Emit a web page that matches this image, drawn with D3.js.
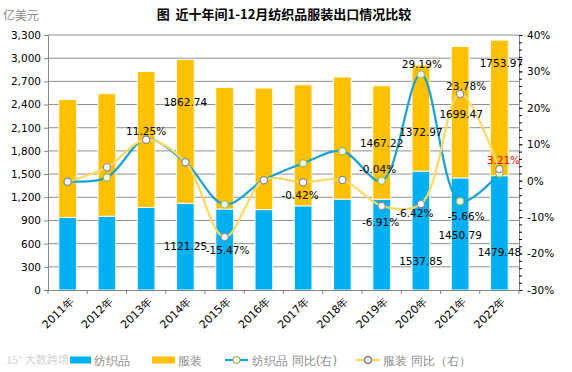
<!DOCTYPE html>
<html>
<head>
<meta charset="utf-8">
<script src="https://cdn.jsdelivr.net/npm/d3@7"></script>
<style>
  body { margin: 0; background: #fff; }
  text { font-family: "DejaVu Sans", sans-serif; }
  .cjk { font-family: "Noto Sans CJK SC", sans-serif; }
</style>
</head>
<body>
<div class="vis-combo"></div>
<script>
const years = ['2011年', '2012年', '2013年', '2014年', '2015年', '2016年',
  '2017年', '2018年', '2019年', '2020年', '2021年', '2022年'];
const textile = [940, 955, 1068, 1121.25, 1048, 1040, 1089, 1176, 1175, 1537.85, 1450.79, 1479.48];
const apparel = [1525, 1585, 1760, 1862.74, 1574, 1574, 1566, 1580, 1467.22, 1372.97, 1699.47, 1753.97];
const textileYoy = [-0.2, 0.9, 11.4, 5.0, -6.5, 0.2, 4.8, 8.1, -0.04, 29.19, -5.66, 1.98];
const apparelYoy = [-0.3, 3.67, 11.25, 5.05, -15.47, 0.1, -0.42, 0.2, -6.91, -6.42, 23.78, 3.21];
const leftTicks = d3.range(0, 3301, 300);
const rightTicks = d3.range(-30, 41, 10);

// which values carry a label, and where the label sits (dx, dy from the mark centre)
const barLabels = [
  { s: 'textile', i: 3, dx: 0, dy: 0 },
  { s: 'apparel', i: 3, dx: 0, dy: -29 },
  { s: 'apparel', i: 8, dx: 0, dy: 1 },
  { s: 'textile', i: 9, dx: 0, dy: 31 },
  { s: 'apparel', i: 9, dx: 0, dy: 14 },
  { s: 'textile', i: 10, dx: 0, dy: 1 },
  { s: 'apparel', i: 10, dx: 1, dy: 2 },
  { s: 'textile', i: 11, dx: 0, dy: 19 },
  { s: 'apparel', i: 11, dx: 2, dy: -45 }
];
const yoyLabels = [
  { s: 'apparel', i: 2, dx: 0, dy: -9 },
  { s: 'apparel', i: 4, dx: 3, dy: 13 },
  { s: 'apparel', i: 6, dx: -3, dy: 13 },
  { s: 'textile', i: 8, dx: -4, dy: -12 },
  { s: 'apparel', i: 8, dx: -1, dy: 16 },
  { s: 'textile', i: 9, dx: 1, dy: -10 },
  { s: 'apparel', i: 9, dx: -6, dy: 9 },
  { s: 'apparel', i: 10, dx: 6, dy: -8 },
  { s: 'textile', i: 10, dx: 6, dy: 15 },
  { s: 'apparel', i: 11, dx: 4, dy: -9, red: true }
];

const W = 572;
const H = 372;
const margin = { top: 35, right: 53, bottom: 82, left: 48 };
const width = W - margin.left - margin.right;
const height = H - margin.top - margin.bottom;

const root = d3.select('.vis-combo').append('svg')
  .attr('width', W)
  .attr('height', H);
const svg = root.append('g')
  .attr('transform', `translate(${margin.left},${margin.top})`);

const x = d3.scaleBand().domain(years).range([0, width]).paddingInner(0.55).paddingOuter(0.275);
const y = d3.scaleLinear().domain([0, 3300]).range([height, 0]);
const y2 = d3.scaleLinear().domain([-30, 40]).range([height, 0]);
const cx = (i) => x(years[i]) + x.bandwidth() / 2;

// title and unit
root.append('text').attr('class', 'cjk')
  .attr('x', 284).attr('y', 19)
  .attr('text-anchor', 'middle')
  .attr('font-size', 13).attr('font-weight', 'bold').attr('fill', '#000')
  .text('图\u00a0\u00a0近十年间1-12月纺织品服装出口情况比较');
root.append('text').attr('class', 'cjk')
  .attr('x', 3).attr('y', 20)
  .attr('font-size', 12).attr('fill', '#8c8c8c')
  .text('亿美元');

// gridlines
svg.append('g').selectAll('line').data(leftTicks.slice(1)).join('line')
  .attr('x1', 0).attr('x2', width)
  .attr('y1', (d) => y(d)).attr('y2', (d) => y(d))
  .attr('stroke', '#8f8f8f').attr('stroke-width', 1);

// stacked bars
const bars = svg.append('g');
bars.selectAll('.t').data(textile).join('rect')
  .attr('x', (d, i) => x(years[i]))
  .attr('width', x.bandwidth())
  .attr('y', (d) => y(d))
  .attr('height', (d) => y(0) - y(d))
  .attr('fill', '#00B0F0')
  .attr('stroke', '#f4fbff').attr('stroke-width', 1);
bars.selectAll('.a').data(apparel).join('rect')
  .attr('x', (d, i) => x(years[i]))
  .attr('width', x.bandwidth())
  .attr('y', (d, i) => y(d + textile[i]))
  .attr('height', (d) => y(0) - y(d))
  .attr('fill', '#FFC000')
  .attr('stroke', '#fffbef').attr('stroke-width', 1);

// axes
const axisColor = '#868686';
const gl = svg.append('g').call(d3.axisLeft(y).tickValues(leftTicks).tickSize(4).tickFormat(d3.format(',')));
const gr = svg.append('g').attr('transform', `translate(${width},0)`)
  .call(d3.axisRight(y2).tickValues(rightTicks).tickSize(4).tickFormat((d) => d + '%'));
svg.append('g').attr('transform', `translate(${width},0)`)
  .call(d3.axisRight(y2).tickValues(d3.range(-30, 41, 2)).tickSize(3).tickFormat(''))
  .call((g) => g.select('.domain').remove());
const gb = svg.append('g').attr('transform', `translate(0,${height})`)
  .call(d3.axisBottom(x).tickSize(0).tickFormat((d) => d));
// category boundary ticks
svg.append('g').selectAll('line').data(d3.range(0, years.length + 1)).join('line')
  .attr('x1', (d) => d * x.step()).attr('x2', (d) => d * x.step())
  .attr('y1', height).attr('y2', height + 4)
  .attr('stroke', axisColor);

[gl, gr, gb].forEach((g) => {
  g.selectAll('.domain').attr('stroke', axisColor);
  g.selectAll('.tick line').attr('stroke', axisColor);
  g.selectAll('text').attr('font-size', 10.5).attr('fill', '#000');
});
gl.selectAll('text').attr('x', -7);
gr.selectAll('text').attr('x', 8);
gb.selectAll('text')
  .attr('transform', 'translate(4,9) rotate(-45)')
  .attr('text-anchor', 'end')
  .attr('dy', '0.35em')
  .attr('x', 0).attr('y', 0)
  .attr('font-size', 11);

// yoy lines
const line = d3.line()
  .x((d, i) => cx(i))
  .y((d) => y2(d))
  .curve(d3.curveCatmullRom.alpha(0.5));
svg.append('path').datum(textileYoy)
  .attr('fill', 'none').attr('stroke', '#1BA3D3').attr('stroke-width', 2.25)
  .attr('d', line);
svg.append('path').datum(apparelYoy)
  .attr('fill', 'none').attr('stroke', '#FFD966').attr('stroke-width', 2.25)
  .attr('d', line);
svg.append('g').selectAll('circle').data(textileYoy).join('circle')
  .attr('cx', (d, i) => cx(i)).attr('cy', (d) => y2(d)).attr('r', 3.6)
  .attr('fill', '#f3f8e8').attr('stroke', '#9BBB59').attr('stroke-width', 1.2);
svg.append('g').selectAll('circle').data(apparelYoy).join('circle')
  .attr('cx', (d, i) => cx(i)).attr('cy', (d) => y2(d)).attr('r', 3.6)
  .attr('fill', '#ffffff').attr('stroke', '#8a8a9a').attr('stroke-width', 1.2);

// data labels
const labels = svg.append('g').attr('font-size', 10.5).attr('text-anchor', 'middle');
labels.selectAll('.bl').data(barLabels).join('text')
  .attr('x', (d) => cx(d.i) + d.dx)
  .attr('y', (d) => {
    const v = d.s === 'textile' ? textile[d.i] : apparel[d.i];
    const base = d.s === 'textile' ? 0 : textile[d.i];
    return (y(base) + y(base + v)) / 2 + d.dy;
  })
  .attr('dy', '0.36em')
  .attr('fill', '#000')
  .text((d) => (d.s === 'textile' ? textile[d.i] : apparel[d.i]).toFixed(2));
labels.selectAll('.yl').data(yoyLabels).join('text')
  .attr('x', (d) => cx(d.i) + d.dx)
  .attr('y', (d) => y2(d.s === 'textile' ? textileYoy[d.i] : apparelYoy[d.i]) + d.dy)
  .attr('dy', '0.36em')
  .attr('fill', (d) => (d.red ? '#FF0000' : '#000'))
  .text((d) => (d.s === 'textile' ? textileYoy[d.i] : apparelYoy[d.i]).toFixed(2) + '%');

// watermark
root.append('text').attr('class', 'cjk')
  .attr('x', 6).attr('y', 364)
  .attr('font-size', 11).attr('fill', '#d4d4d4')
  .text('15° 大数跨境');

// legend
const lg = root.append('g').attr('class', 'cjk').attr('font-size', 12).attr('fill', '#8c8c8c');
const ly = 360;
lg.append('rect').attr('x', 70).attr('y', ly - 3.5).attr('width', 21).attr('height', 7).attr('fill', '#00B0F0');
lg.append('text').attr('x', 94).attr('y', ly + 4.5).text('纺织品');
lg.append('rect').attr('x', 152).attr('y', ly - 3.5).attr('width', 23).attr('height', 7).attr('fill', '#FFC000');
lg.append('text').attr('x', 178).attr('y', ly + 4.5).text('服装');
lg.append('line').attr('x1', 225).attr('x2', 248).attr('y1', ly).attr('y2', ly)
  .attr('stroke', '#1BA3D3').attr('stroke-width', 2.25);
lg.append('circle').attr('cx', 236.5).attr('cy', ly).attr('r', 3.4)
  .attr('fill', '#f3f8e8').attr('stroke', '#9BBB59').attr('stroke-width', 1.2);
lg.append('text').attr('x', 252).attr('y', ly + 4.5).text('纺织品 同比(右)');
lg.append('line').attr('x1', 356).attr('x2', 380).attr('y1', ly).attr('y2', ly)
  .attr('stroke', '#FFD966').attr('stroke-width', 2.25);
lg.append('circle').attr('cx', 368).attr('cy', ly).attr('r', 3.4)
  .attr('fill', '#ffffff').attr('stroke', '#8064A2').attr('stroke-width', 1.2);
lg.append('text').attr('x', 383).attr('y', ly + 4.5).text('服装 同比（右）');
</script>
</body>
</html>
